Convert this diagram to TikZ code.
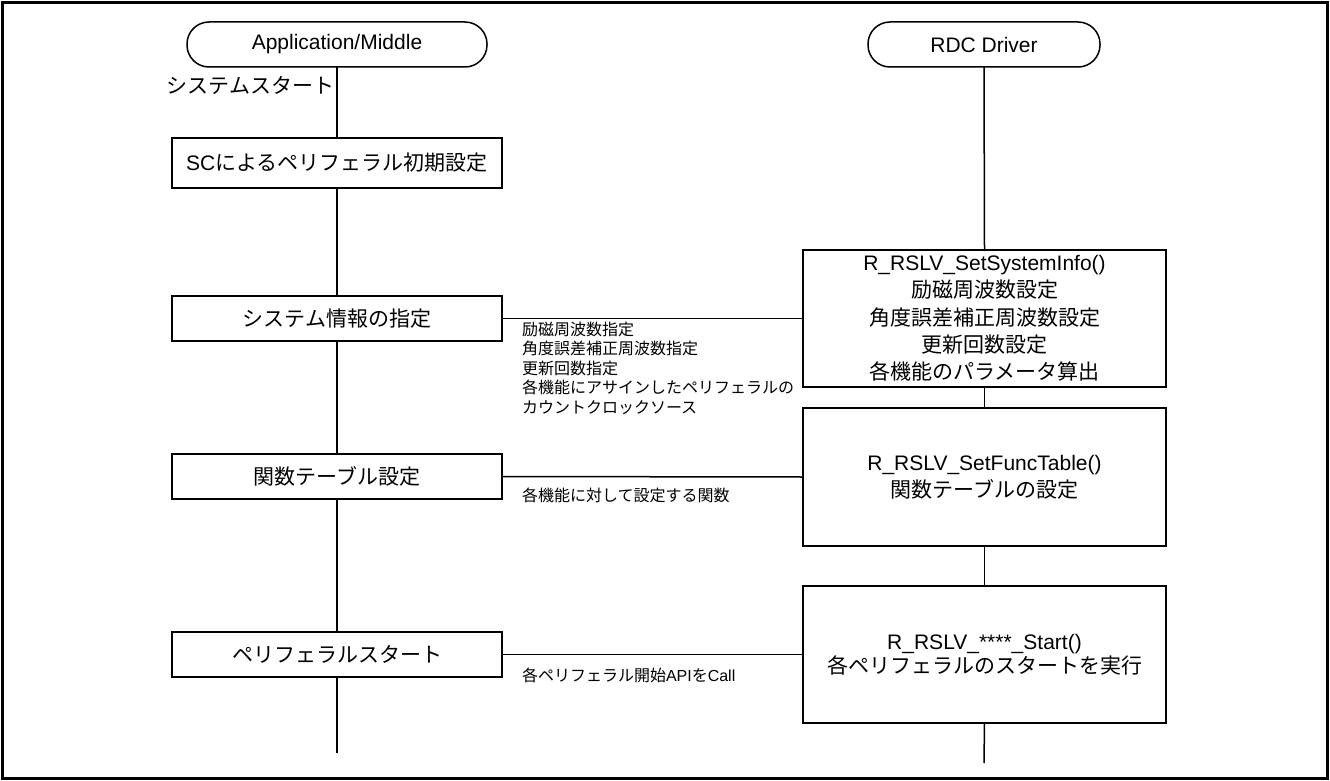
\documentclass[tikz,border=0pt]{standalone}
\usepackage{fontspec}
\setmainfont{Liberation Sans}
\newfontfamily\jp{Noto Sans CJK JP}
\begin{document}
\begin{tikzpicture}[x=1pt,y=-1pt,
  every node/.style={inner sep=0pt,outer sep=0pt},
  pill/.style={draw,line width=1.5pt,rounded corners=22pt,minimum height=45pt,font=\fontsize{21}{25}\selectfont},
  lbox/.style={draw,line width=1.8pt,minimum width=330pt,minimum height=45pt,font=\fontsize{21}{25}\selectfont},
  rbox/.style={draw,line width=1.8pt,minimum width=363pt,minimum height=137pt,align=center,font=\fontsize{21}{27.3}\selectfont},
  wire/.style={line width=1.5pt},
  lbl/.style={align=left,font=\fontsize{16}{19.5}\selectfont}]
\useasboundingbox (0,0) rectangle (1330,781);
\draw[line width=2.5pt] (2.5,2.5) rectangle (1327.5,778.5);

% lane heads
\node[pill,minimum width=300pt] (appl) at (337,44.5) {Application/Middle};
\node[pill,minimum width=232pt] (rdc) at (984,44.5) {RDC Driver};

% left side
\node[anchor=east,font=\fontsize{21}{25}\selectfont] (start) at (334,85) {\jp システムスタート};
\node[lbox,minimum height=50pt] (sc) at (337,163) {SC{\jp によるペリフェラル初期設定}};
\node[lbox] (sys) at (337,318.5) {\jp システム情報の指定};
\node[lbox] (func) at (337,476.5) {\jp 関数テーブル設定};
\node[lbox] (peri) at (337,654.5) {\jp ペリフェラルスタート};
\coordinate (lend) at (337,753);

% right side
\node[rbox] (r1) at (984.5,318.5) {R\_RSLV\_SetSystemInfo()\\{\jp 励磁周波数設定}\\{\jp 角度誤差補正周波数設定}\\{\jp 更新回数設定}\\{\jp 各機能のパラメータ算出}};
\node[rbox,minimum height=138pt] (r2) at (984.5,477) {R\_RSLV\_SetFuncTable()\\{\jp 関数テーブルの設定}};
\node[rbox,font=\fontsize{21}{24}\selectfont] (r3) at (984.5,654.5) {R\_RSLV\_****\_Start()\\{\jp 各ペリフェラルのスタートを実行}};
\coordinate (rend) at (984,763);

% lifelines
\draw[wire] (appl.south) -- (sc.north);
\draw[wire] (sc.south) -- (sys.north);
\draw[wire] (sys.south) -- (func.north);
\draw[wire] (func.south) -- (peri.north);
\draw[wire] (peri.south) -- (lend);
\draw[wire] (rdc.south) -- (r1.north);
\draw[wire] (r1.south) -- (r2.north);
\draw[wire] (r2.south) -- (r3.north);
\draw[wire] (r3.south) -- (rend);

% connectors
\draw[wire] (sys.east) -- (r1.west);
\draw[wire] (func.east) -- (r2.west);
\draw[wire] (peri.east) -- (r3.west);

% connector labels
\node[lbl,anchor=north west] (l1) at (522,322) {\jp 励磁周波数指定\\\jp 角度誤差補正周波数指定\\\jp 更新回数指定\\\jp 各機能にアサインしたペリフェラルの\\\jp カウントクロックソース};
\node[lbl,anchor=base west] (l2) at (522,501) {\jp 各機能に対して設定する関数};
\node[lbl,anchor=base west] (l3) at (522,681) {{\jp 各ペリフェラル開始}API{\jp を}Call};
\end{tikzpicture}
\end{document}
